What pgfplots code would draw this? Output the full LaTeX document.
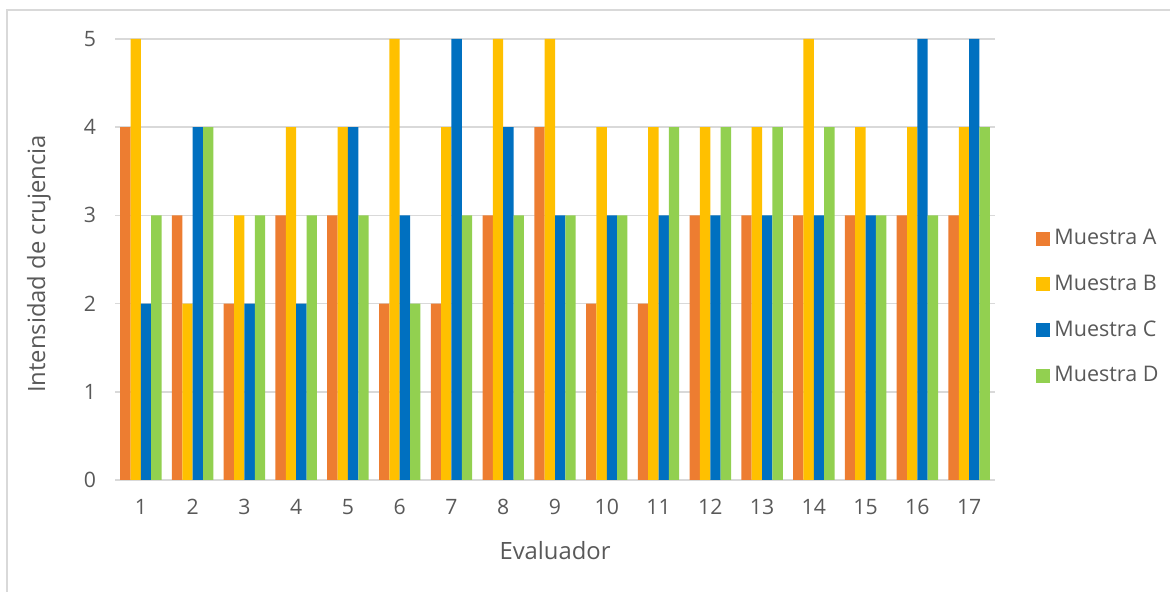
\documentclass[border=0pt]{standalone}
\usepackage{pgfplots}
\pgfplotsset{compat=1.18}
\usepackage{fontspec}
\setmainfont{Open Sans}

\definecolor{serA}{HTML}{ED7D31}
\definecolor{serB}{HTML}{FFC000}
\definecolor{serC}{HTML}{0070C0}
\definecolor{serD}{HTML}{92D050}
\definecolor{gridgray}{HTML}{D9D9D9}
\definecolor{txtgray}{HTML}{595959}

\newcommand{\tickfont}{\fontsize{10.6pt}{12.5pt}\selectfont}
\newcommand{\legfont}{\fontsize{10.75pt}{12.5pt}\selectfont}
\newcommand{\titlefont}{\fontsize{11.9pt}{14pt}\selectfont}

\begin{document}
\begin{tikzpicture}
% page frame (1px = 0.5pt)
\path[use as bounding box] (0,0) rectangle (585pt,296pt);
\draw[gridgray, line width=1pt] (3.5pt,0) -- (3.5pt,291pt) -- (585pt,291pt);

\begin{axis}[
  at={(57.5pt,56pt)}, anchor=south west,
  scale only axis,
  width=440pt, height=220.5pt,
  xmin=0.5, xmax=17.5,
  ymin=0, ymax=5,
  ybar=0pt,
  bar width=0.2,
  xtick={1,...,17},
  ytick={0,1,2,3,4,5},
  /pgf/number format/assume math mode=true,
  ymajorgrids,
  grid style={gridgray, line width=0.8pt},
  axis x line*=bottom,
  axis y line*=left,
  x axis line style={gridgray, line width=1pt, -},
  y axis line style={draw=none},
  tick style={draw=none},
  major tick length=0pt,
  xticklabel style={font=\tickfont, text=txtgray, yshift=-6pt},
  yticklabel style={font=\tickfont, text=txtgray, xshift=-6pt},
  xlabel={Evaluador},
  ylabel={Intensidad de crujencia},
  every axis x label/.style={at={(axis description cs:0.5,-0.159)}, anchor=center, font=\titlefont, text=txtgray},
  every axis y label/.style={at={(axis description cs:-0.0865,0.49)}, rotate=90, anchor=center, font=\titlefont, text=txtgray},
  legend style={
    at={(axis description cs:1.0466,0.578)}, anchor=north west,
    draw=none, fill=none, inner sep=0pt,
    font=\legfont, text=txtgray,
    row sep=9.6pt,
    /tikz/every even column/.append style={column sep=3.5pt},
  },
  legend cell align=left,
  legend image code/.code={\fill[#1] (0pt,-3.5pt) rectangle (7pt,3.5pt);},
]
% A
\addplot[fill=serA, draw=none] coordinates {
(1,4) (2,3) (3,2) (4,3) (5,3) (6,2) (7,2) (8,3) (9,4) (10,2) (11,2) (12,3) (13,3) (14,3) (15,3) (16,3) (17,3)};
% B
\addplot[fill=serB, draw=none] coordinates {
(1,5) (2,2) (3,3) (4,4) (5,4) (6,5) (7,4) (8,5) (9,5) (10,4) (11,4) (12,4) (13,4) (14,5) (15,4) (16,4) (17,4)};
% C
\addplot[fill=serC, draw=none] coordinates {
(1,2) (2,4) (3,2) (4,2) (5,4) (6,3) (7,5) (8,4) (9,3) (10,3) (11,3) (12,3) (13,3) (14,3) (15,3) (16,5) (17,5)};
% D
\addplot[fill=serD, draw=none] coordinates {
(1,3) (2,4) (3,3) (4,3) (5,3) (6,2) (7,3) (8,3) (9,3) (10,3) (11,4) (12,4) (13,4) (14,4) (15,3) (16,3) (17,4)};
\legend{Muestra A, Muestra B, Muestra C, Muestra D}
\end{axis}
\end{tikzpicture}
\end{document}
